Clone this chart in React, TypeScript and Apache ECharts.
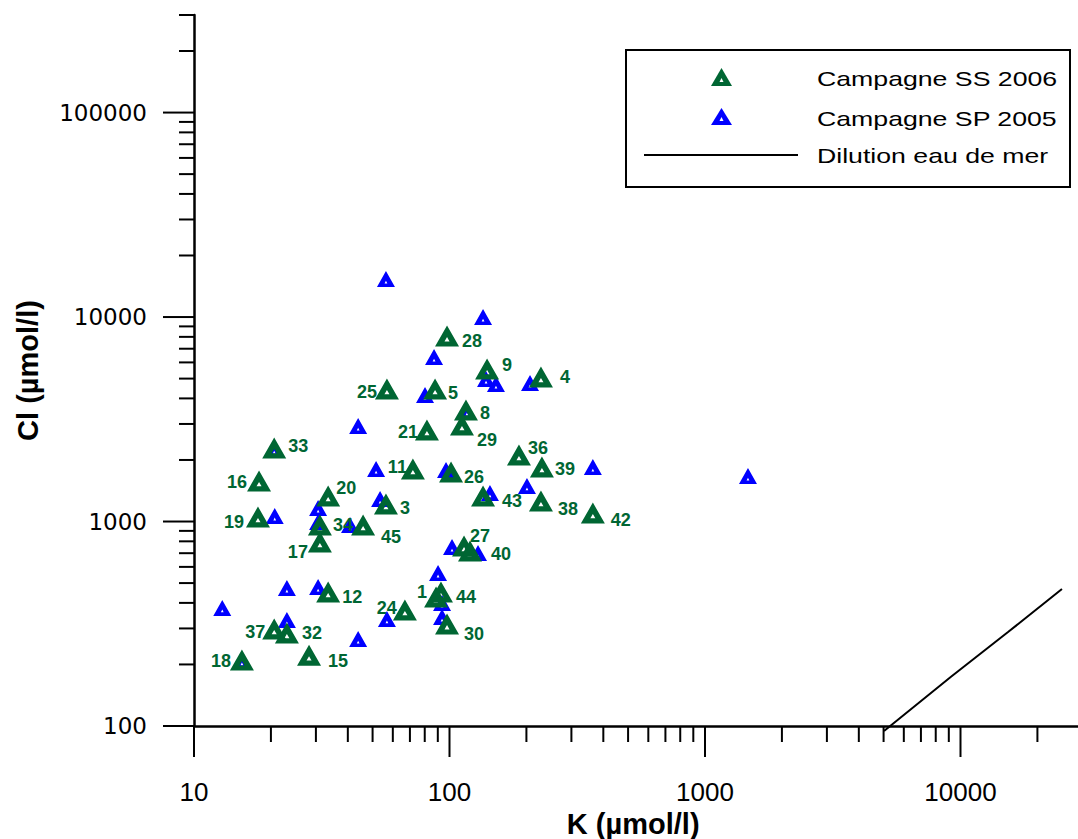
import React, { useEffect, useRef } from "react";
import * as echarts from "echarts";

// ---- Data ----
const greenLabels = ["28","9","4","25","5","8","21","29","36","33","16","11","26","20","39","43","38","42","3","19","34","45","17","27","40","12","1","44","24","30","37","32","15","18"];
const greenK = [97.8,140.3,228,56.9,87.8,116,81.6,111.9,187,20.6,17.97,71.9,101.4,33.5,230,135.3,228,364,56.4,17.8,31.1,45.9,31.1,114,120.3,33.5,88.6,92.6,66.9,97.8,20.6,23.1,28.2,15.4];
const greenCl = [8070,5568,5088,4445,4445,3510,2802,2964,2115,2288,1578,1806,1746,1333,1847,1333,1260,1100,1218,1052,961,961,794,759,717,452,427,452,369,315,298,285,222,210];

const blueK = [56.4,135.3,87,43.9,80.2,139,152,206.6,117,20.6,51.6,96.9,201,364,1473,144,53.5,20.7,30.6,30.6,40.8,102.3,129.3,90.2,93.5,93.5,56.9,23.1,30.6,12.9,23.1,43.9,15.4];
const blueCl = [15340,10000,6374,2931,4155,4975,4702,4757,3470,2262,1806,1786,1492,1847,1669,1379,1288,1064,1164,995,961,750,701,560,399,341,334,473,478,378,330,266,208];

const dilutionK = [5020, 9180, 15350, 24950];
const dilutionCl = [94.5, 174, 288, 468];

const xMajorTicks = [10, 100, 1000, 10000];
const xMinorTicks = [20,30,40,50,60,70,80,90,200,300,400,500,600,700,800,900,2000,3000,4000,5000,6000,7000,8000,9000,20000,30000];
const yMajorTicks = [100, 1000, 10000, 100000];
const yMinorTicks = [200,300,400,500,600,700,800,900,2000,3000,4000,5000,6000,7000,8000,9000,20000,30000,40000,50000,60000,70000,80000,90000,200000,300000];

const legendNames = ["Campagne SS 2006", "Campagne SP 2005", "Dilution eau de mer"];

// ---- Layout of the point labels (side, dx from marker centre to label edge, dy) ----
const greenLabelLayout: [string, number, number][] = [
  ["r",15,5],["r",15,-4],["r",19,0],["l",-10,3],["r",13,4],["r",14,3],["l",-9,2],["r",15,15],["r",9,-7],["r",14,-2],
  ["l",-12,1],["l",-6,-2],["r",13,5],["r",8,-8],["r",13,2],["r",19,5],["r",17,8],["r",18,7],["r",14,4],["l",-14,5],
  ["r",13,0],["r",18,12],["l",-12,10],["r",6,-10],["r",21,3],["r",14,5],["l",-9,-5],["r",15,5],["l",-8,-2],["r",17,10],
  ["l",-9,3],["r",15,0],["r",19,6],["l",-11,1],
];

const GREEN = "#006633";
const BLUE = "#0000ff";
const X_MIN = 10, X_MAX = 30000, Y_MIN = 100, Y_MAX = 300000;

const greenSymbol = "path://M12,0 L24,21 L0,21 Z M12,11.5 L9.5,15.8 L14.5,15.8 Z";
const blueSymbol = "path://M8.5,0 L17,15 L0,15 Z M8.5,9 L7.2,11.6 L9.8,11.6 Z";

const isPow10 = (v: number) => {
  const l = Math.log10(v);
  return Math.abs(l - Math.round(l)) < 1e-6;
};

function tickSeries(values: number[], axis: "x" | "y", len: number) {
  return {
    type: "custom",
    coordinateSystem: "cartesian2d",
    silent: true,
    clip: false,
    z: 5,
    data: values.map((v) => (axis === "x" ? [v, Y_MIN] : [X_MIN, v])),
    renderItem: (params: any, api: any) => {
      const p = api.coord([api.value(0), api.value(1)]);
      const shape =
        axis === "x"
          ? { x1: p[0], y1: p[1], x2: p[0], y2: p[1] + len }
          : { x1: p[0] - len, y1: p[1], x2: p[0], y2: p[1] };
      return { type: "line", shape, style: { stroke: "#000", lineWidth: 2 } };
    },
  };
}

export default function App() {
  const ref = useRef<HTMLDivElement>(null);
  useEffect(() => {
    if (!ref.current) return;
    const chart = echarts.init(ref.current, null, { renderer: "svg" });

    const greenData = greenK.map((k, i) => {
      const [side, dx, dy] = greenLabelLayout[i];
      return {
        value: [k, greenCl[i]],
        name: greenLabels[i],
        label: {
          position: side === "r" ? "right" : "left",
          distance: 0,
          offset: side === "r" ? [dx - 12, dy] : [dx + 12, dy],
        },
      };
    });
    const blueData = blueK.map((k, i) => [k, blueCl[i]]);
    const dilData = dilutionK.map((k, i) => [k, dilutionCl[i]]);

    const legendText = (txt: string, y: number) => ({
      type: "text",
      x: 817,
      y,
      scaleX: 1.27,
      style: {
        text: txt,
        fill: "#000",
        font: "21px 'Liberation Sans', Arial, sans-serif",
        textAlign: "left",
        textVerticalAlign: "middle",
      },
    });

    chart.setOption({
      animation: false,
      backgroundColor: "#fff",
      grid: {
        left: 194,
        top: 15,
        width: 888.4,
        height: 711,
        containLabel: false,
        outerBoundsMode: "none",
      },
      xAxis: {
        type: "log",
        logBase: 10,
        min: X_MIN,
        max: X_MAX,
        axisLine: { show: true, lineStyle: { color: "#000", width: 2.5 } },
        axisTick: { show: false },
        minorTick: { show: false },
        splitLine: { show: false },
        axisLabel: {
          margin: 53,
          color: "#000",
          fontSize: 26,
          fontFamily: "'Liberation Sans', Arial, sans-serif",
          formatter: (v: number) => (isPow10(v) ? String(Math.round(v)) : ""),
        },
        name: "K (µmol/l)",
        nameLocation: "middle",
        nameGap: 82,
        nameTextStyle: {
          color: "#000",
          fontSize: 29,
          fontWeight: "bold",
          fontFamily: "'Liberation Sans', Arial, sans-serif",
          padding: [0, 10, 0, 0],
        },
      },
      yAxis: {
        type: "log",
        logBase: 10,
        min: Y_MIN,
        max: Y_MAX,
        axisLine: { show: true, lineStyle: { color: "#000", width: 2.5 } },
        axisTick: { show: false },
        minorTick: { show: false },
        splitLine: { show: false },
        axisLabel: {
          margin: 47,
          color: "#000",
          fontSize: 23,
          fontFamily: "'DejaVu Sans', sans-serif",
          formatter: (v: number) => (isPow10(v) ? String(Math.round(v)) : ""),
        },
        name: "Cl (µmol/l)",
        nameLocation: "middle",
        nameGap: 152,
        nameTextStyle: {
          color: "#000",
          fontSize: 29,
          fontWeight: "bold",
          fontFamily: "'Liberation Sans', Arial, sans-serif",
        },
      },
      series: [
        tickSeries(xMajorTicks, "x", 31),
        tickSeries(xMinorTicks, "x", 16),
        tickSeries(yMajorTicks, "y", 31),
        tickSeries(yMinorTicks, "y", 15),
        {
          name: legendNames[2],
          type: "line",
          data: dilData,
          symbol: "none",
          clip: false,
          lineStyle: { color: "#000", width: 2 },
          z: 2,
        },
        {
          name: legendNames[1],
          type: "scatter",
          data: blueData,
          symbol: blueSymbol,
          symbolSize: [18, 16],
          itemStyle: { color: BLUE, opacity: 1 },
          z: 3,
        },
        {
          name: legendNames[0],
          type: "scatter",
          data: greenData,
          symbol: greenSymbol,
          symbolSize: [24, 21],
          itemStyle: { color: GREEN, opacity: 1 },
          label: {
            show: true,
            formatter: "{b}",
            color: GREEN,
            fontSize: 18,
            fontWeight: "bold",
            fontFamily: "'Liberation Sans', Arial, sans-serif",
            verticalAlign: "middle",
          },
          z: 4,
        },
      ],
      graphic: [
        {
          type: "rect",
          shape: { x: 626, y: 50, width: 444, height: 137 },
          style: { fill: "#fff", stroke: "#000", lineWidth: 2 },
          z: 10,
        },
        {
          type: "polygon",
          shape: { points: [[721.5, 68], [732, 86], [711, 86]] },
          style: { fill: GREEN },
          z: 11,
        },
        {
          type: "polygon",
          shape: { points: [[721.5, 78], [719.5, 82], [723.5, 82]] },
          style: { fill: "#fff" },
          z: 12,
        },
        {
          type: "polygon",
          shape: { points: [[721.5, 108], [732, 125], [711, 125]] },
          style: { fill: BLUE },
          z: 11,
        },
        {
          type: "polygon",
          shape: { points: [[721.5, 117], [719.5, 121], [723.5, 121]] },
          style: { fill: "#fff" },
          z: 12,
        },
        {
          type: "line",
          shape: { x1: 644, y1: 155, x2: 798, y2: 155 },
          style: { stroke: "#000", lineWidth: 2 },
          z: 11,
        },
        { ...legendText(legendNames[0], 79), z: 11 },
        { ...legendText(legendNames[1], 119), z: 11 },
        { ...legendText(legendNames[2], 156), z: 11 },
      ],
    });
    return () => chart.dispose();
  }, []);
  return (
    <div
      ref={ref}
      style={{ position: "fixed", left: 0, top: 0, width: 1078, height: 839, background: "#fff" }}
    />
  );
}
